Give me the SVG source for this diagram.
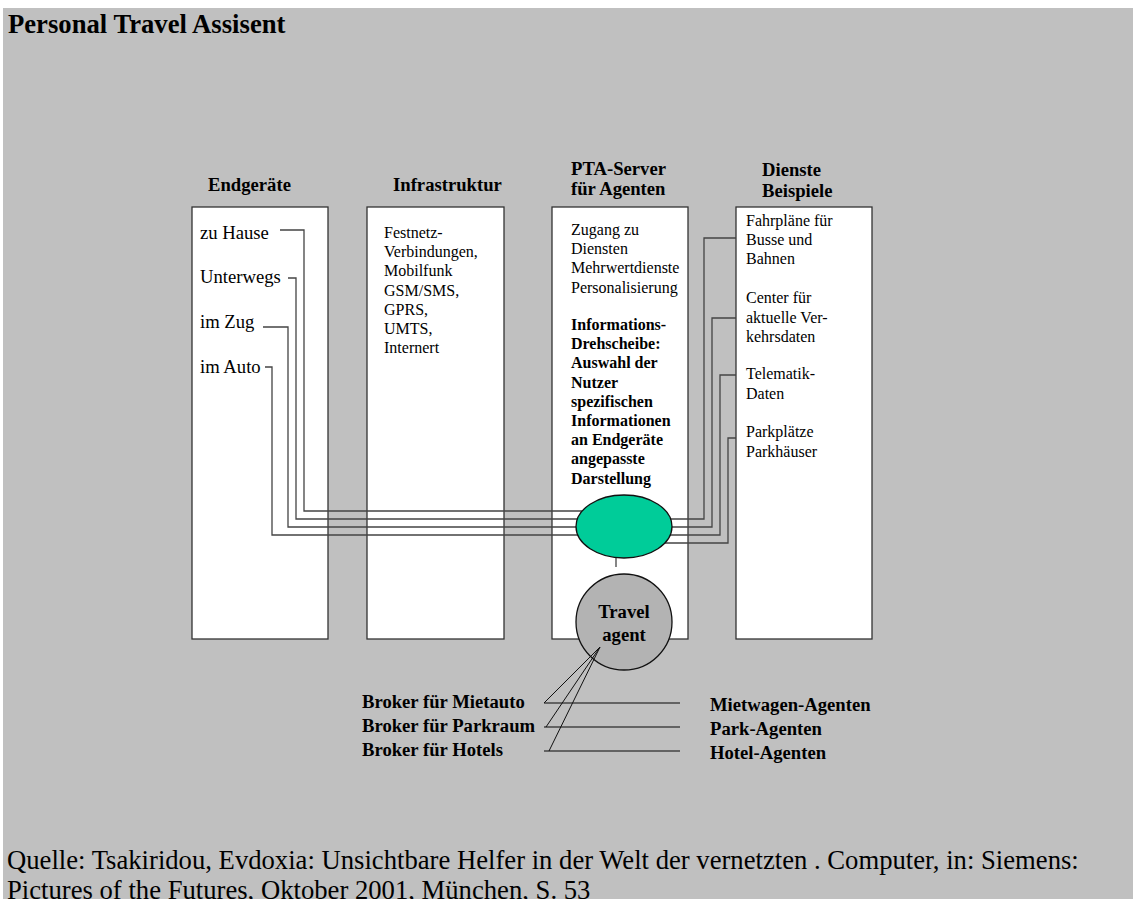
<svg xmlns="http://www.w3.org/2000/svg" width="1134" height="899" viewBox="0 0 1134 899">
  <style>
    text { font-family: "Liberation Serif", "Times New Roman", serif; fill: #000; }
    .title { font-size: 26.67px; font-weight: bold; }
    .head { font-size: 18.67px; font-weight: bold; }
    .item { font-size: 18.67px; }
    .small { font-size: 16px; }
    .smallb { font-size: 16px; font-weight: bold; }
    .src { font-size: 26.67px; }
    .col { fill: #fff; stroke: #333; stroke-width: 1.3; }
    .wire { fill: none; stroke: #444; stroke-width: 1.3; }
    .thin { fill: none; stroke: #111; stroke-width: 1; }
  </style>

  <!-- page -->
  <rect x="0" y="0" width="1134" height="899" fill="#fff"/>
  <rect x="3" y="8" width="1130" height="891" fill="#c0c0c0"/>
  <text class="title" x="8" y="33">Personal Travel Assisent</text>

  <!-- column headings -->
  <g id="headings">
    <text class="head" x="208" y="191">Endgeräte</text>
    <text class="head" x="393" y="191">Infrastruktur</text>
    <text class="head" x="571" y="175">PTA-Server</text>
    <text class="head" x="571" y="195">für Agenten</text>
    <text class="head" x="762" y="176">Dienste</text>
    <text class="head" x="762" y="197">Beispiele</text>
  </g>

  <!-- columns -->
  <g id="endgeraete">
    <rect class="col" x="192" y="207" width="136" height="432"/>
    <text class="item" x="200" y="239">zu Hause</text>
    <text class="item" x="200" y="283">Unterwegs</text>
    <text class="item" x="200" y="328">im Zug</text>
    <text class="item" x="200" y="373">im Auto</text>
  </g>

  <g id="infrastruktur">
    <rect class="col" x="367" y="207" width="137" height="432"/>
    <text class="small" x="384">
      <tspan x="384" y="238">Festnetz-</tspan>
      <tspan x="384" y="257.2">Verbindungen,</tspan>
      <tspan x="384" y="276.4">Mobilfunk</tspan>
      <tspan x="384" y="295.6">GSM/SMS,</tspan>
      <tspan x="384" y="314.8">GPRS,</tspan>
      <tspan x="384" y="334">UMTS,</tspan>
      <tspan x="384" y="353.2">Internert</tspan>
    </text>
  </g>

  <g id="pta-server">
    <rect class="col" x="552" y="207" width="136" height="432"/>
    <text class="small">
      <tspan x="571" y="235">Zugang zu</tspan>
      <tspan x="571" y="254.2">Diensten</tspan>
      <tspan x="571" y="273.4">Mehrwertdienste</tspan>
      <tspan x="571" y="292.6">Personalisierung</tspan>
    </text>
    <text class="smallb">
      <tspan x="571" y="330">Informations-</tspan>
      <tspan x="571" y="349.2">Drehscheibe:</tspan>
      <tspan x="571" y="368.4">Auswahl der</tspan>
      <tspan x="571" y="387.6">Nutzer</tspan>
      <tspan x="571" y="406.8">spezifischen</tspan>
      <tspan x="571" y="426">Informationen</tspan>
      <tspan x="571" y="445.2">an Endgeräte</tspan>
      <tspan x="571" y="464.4">angepasste</tspan>
      <tspan x="571" y="483.6">Darstellung</tspan>
    </text>
  </g>

  <g id="dienste">
    <rect class="col" x="736" y="207" width="136" height="432"/>
    <text class="small">
      <tspan x="746" y="226">Fahrpläne für</tspan>
      <tspan x="746" y="245.2">Busse und</tspan>
      <tspan x="746" y="264.4">Bahnen</tspan>
      <tspan x="746" y="303.3">Center für</tspan>
      <tspan x="746" y="322.5">aktuelle Ver-</tspan>
      <tspan x="746" y="341.7">kehrsdaten</tspan>
      <tspan x="746" y="379.3">Telematik-</tspan>
      <tspan x="746" y="398.5">Daten</tspan>
      <tspan x="746" y="437.3">Parkplätze</tspan>
      <tspan x="746" y="456.5">Parkhäuser</tspan>
    </text>
  </g>

  <!-- wiring between devices, hub and services -->
  <g id="connectors">
    <polyline class="wire" points="280,230 304,230 304,511 624,511"/>
    <polyline class="wire" points="288,278 296,278 296,519 624,519"/>
    <polyline class="wire" points="263,327 288,327 288,527 624,527"/>
    <polyline class="wire" points="265,367 272,367 272,535 624,535"/>
    <polyline class="wire" points="624,519 704,519 704,238 736,238"/>
    <polyline class="wire" points="624,527 712,527 712,318 736,318"/>
    <polyline class="wire" points="624,535 720,535 720,375 736,375"/>
    <polyline class="wire" points="624,543 728,543 728,438 736,438"/>
    <line class="wire" x1="616" y1="556" x2="616" y2="567"/>
    <line class="wire" x1="544" y1="703" x2="680" y2="703"/>
    <line class="wire" x1="544" y1="727" x2="680" y2="727"/>
    <line class="wire" x1="544" y1="751" x2="680" y2="751"/>
  </g>

  <!-- information hub -->
  <g id="hub">
    <ellipse cx="624" cy="526.5" rx="48" ry="31.5" fill="#00cc99" stroke="#111" stroke-width="1.3"/>
  </g>

  <!-- travel agent -->
  <g id="travel-agent">
    <circle cx="624" cy="622" r="48" fill="#b3b3b3" stroke="#111" stroke-width="1.3"/>
    <text class="head" x="624" y="618" text-anchor="middle">Travel</text>
    <text class="head" x="624" y="641" text-anchor="middle">agent</text>
  </g>

  <!-- brokers fanning out of the agent -->
  <g id="broker-links">
    <polyline class="thin" points="544,703 600,647 546,727"/>
    <line class="thin" x1="600" y1="647" x2="549" y2="751"/>
  </g>

  <g id="brokers">
    <text class="head" x="362" y="708">Broker für Mietauto</text>
    <text class="head" x="362" y="732">Broker für Parkraum</text>
    <text class="head" x="362" y="756">Broker für Hotels</text>
  </g>

  <g id="agents">
    <text class="head" x="710" y="711">Mietwagen-Agenten</text>
    <text class="head" x="710" y="735">Park-Agenten</text>
    <text class="head" x="710" y="759">Hotel-Agenten</text>
  </g>

  <!-- source -->
  <text class="src" x="7" y="869">Quelle: Tsakiridou, Evdoxia: Unsichtbare Helfer in der Welt der vernetzten . Computer, in: Siemens:</text>
  <text class="src" x="7" y="899">Pictures of the Futures, Oktober 2001, München, S. 53</text>
</svg>
